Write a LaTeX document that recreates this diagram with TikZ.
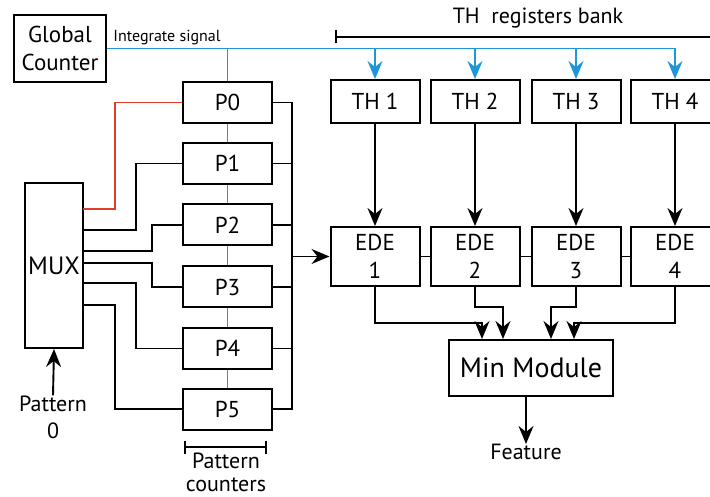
\documentclass[tikz,border=0pt]{standalone}
\usepackage{fontspec}
\setmainfont{PT Sans}
\usetikzlibrary{arrows.meta}

\definecolor{sigblue}{RGB}{30,150,220}
\definecolor{selred}{RGB}{225,60,40}

\begin{document}
\begin{tikzpicture}[x=1pt,y=-1pt,
		box/.style={draw, line width=2pt, inner sep=0pt, align=center, font=\fontsize{23}{28}\selectfont},
		wire/.style={line width=1.9pt, black},
		arr/.style={wire, -{Stealth[length=18pt,width=15pt,inset=6pt]}},
		sig/.style={line width=1.8pt, sigblue},
		sigarr/.style={sig, -{Stealth[length=18pt,width=15pt,inset=6pt]}},
		txt/.style={align=center, inner sep=0pt, font=\fontsize{22}{27}\selectfont}]
				\useasboundingbox (0,0) rectangle (710,497);
				% counter, multiplexer and pattern counters
				\begin{scope}[every node/.style={box}]
					\node[minimum width=92pt, minimum height=67pt] (GC) at (60,48.5) {Global\\Counter};
					\node[minimum width=58pt, minimum height=165pt, font=\fontsize{25}{30}\selectfont] (MUX) at (54,265.5) {MUX};
				\end{scope}
				\begin{scope}[every node/.style={box, minimum width=89pt, minimum height=41pt}]
					\node (P0) at (227.5,102.5) {P0};
					\node (P1) at (227.5,163.5) {P1};
					\node (P2) at (227.5,225) {P2};
					\node (P3) at (227.5,287) {P3};
					\node (P4) at (227.5,348.5) {P4};
					\node (P5) at (227.5,409) {P5};
				\end{scope}
				% threshold registers and EDE blocks
				\begin{scope}[every node/.style={box, minimum width=89pt, minimum height=43pt}]
					\node (TH1) at (375,101.5) {TH 1};
					\node (TH2) at (475,101.5) {TH 2};
					\node (TH3) at (576,101.5) {TH 3};
					\node (TH4) at (675,101.5) {TH 4};
				\end{scope}
				\begin{scope}[every node/.style={box, minimum width=89pt, minimum height=59pt}]
					\node (EDE1) at (375,256.5) {EDE\\1};
					\node (EDE2) at (475,256.5) {EDE\\2};
					\node (EDE3) at (576,256.5) {EDE\\3};
					\node (EDE4) at (675,256.5) {EDE\\4};
				\end{scope}
				\node[box, minimum width=164pt, minimum height=56pt, font=\fontsize{28}{32}\selectfont] (MIN) at (531,368) {Min Module};
				% labels
				\node[txt, font=\fontsize{16}{19}\selectfont] (intlbl) at (167,38) {Integrate signal};
				\node[txt] (banklbl) at (538,18) {TH\ \ registers bank};
				\node[txt] (pat) at (53,417) {Pattern\\0};
				\node[txt, font=\fontsize{22}{23}\selectfont] (cntlbl) at (226,472) {Pattern\\counters};
				\node[txt] (feat) at (526,452) {Feature};
				\coordinate (m0) at (83,209);
				\coordinate (m1) at (83,230);
				\coordinate (m2) at (83,251);
				\coordinate (m3) at (83,263);
				\coordinate (m4) at (83,283);
				\coordinate (m5) at (83,305);
				\coordinate (bus) at (292,256.5);
				\coordinate (cl) at (184,447);
				\coordinate (cr) at (267,447);
				\coordinate (bl) at (335,37);
				\coordinate (br) at (714,37);
				\coordinate (in1) at ([xshift=-49pt]MIN.north);
				\coordinate (in2) at ([xshift=-28pt]MIN.north);
				\coordinate (in3) at ([xshift=20pt]MIN.north);
				\coordinate (in4) at ([xshift=43pt]MIN.north);
				% integrate signal
				\draw [sigarr] (GC.east) -| (TH4.north);
				\draw [sigarr] (TH1.north |- GC.east) -- (TH1.north);
				\draw [sigarr] (TH2.north |- GC.east) -- (TH2.north);
				\draw [sigarr] (TH3.north |- GC.east) -- (TH3.north);
				\draw [sig] (P0.north |- GC.east) -- (P0.north);
				\draw [sig] (P0.south) -- (P1.north);
				\draw [sig] (P1.south) -- (P2.north);
				\draw [sig] (P2.south) -- (P3.north);
				\draw [sig] (P3.south) -- (P4.north);
				\draw [sig] (P4.south) -- (P5.north);
				% mux outputs
				\draw [wire, selred] (m0) -- ++(32,0) |- (P0.west);
				\draw [wire] (m1) -- ++(53,0) |- (P1.west);
				\draw [wire] (m2) -- ++(69,0) |- (P2.west);
				\draw [wire] (m3) -- ++(69,0) |- (P3.west);
				\draw [wire] (m4) -- ++(53,0) |- (P4.west);
				\draw [wire] (m5) -- ++(32,0) |- (P5.west);
				\draw [arr] (pat.north) -- (MUX.south);
				% counters bus
				\draw [wire] (P0.east) -| (bus);
				\draw [wire] (P5.east) -| (bus);
				\draw [wire] (P1.east) -- (P1.east -| bus);
				\draw [wire] (P2.east) -- (P2.east -| bus);
				\draw [wire] (P3.east) -- (P3.east -| bus);
				\draw [wire] (P4.east) -- (P4.east -| bus);
				\draw [arr] (bus) -- (EDE1.west);
				% thresholds into EDE
				\draw [arr] (TH1.south) -- (EDE1.north);
				\draw [arr] (TH2.south) -- (EDE2.north);
				\draw [arr] (TH3.south) -- (EDE3.north);
				\draw [arr] (TH4.south) -- (EDE4.north);
				\draw [wire] (EDE1.east) -- (EDE2.west);
				\draw [wire] (EDE2.east) -- (EDE3.west);
				\draw [wire] (EDE3.east) -- (EDE4.west);
				% EDE outputs into min module
				\draw [arr] (EDE1.south) -- ++(0,36) -| (in1);
				\draw [arr] (EDE2.south) -- ++(0,20) -| (in2);
				\draw [arr] (EDE3.south) -- ++(0,20) -| (in3);
				\draw [arr] (EDE4.south) -- ++(0,36) -| (in4);
				\draw [arr] (MIN.south -| feat.north) -- (feat.north);
				% brackets
				\draw [wire, {Bar[width=13pt]}-{Bar[width=13pt]}] (cl) -- (cr);
				\draw [wire, {Bar[width=13pt]}-] (bl) -- (br);
			\end{tikzpicture}
\end{document}
